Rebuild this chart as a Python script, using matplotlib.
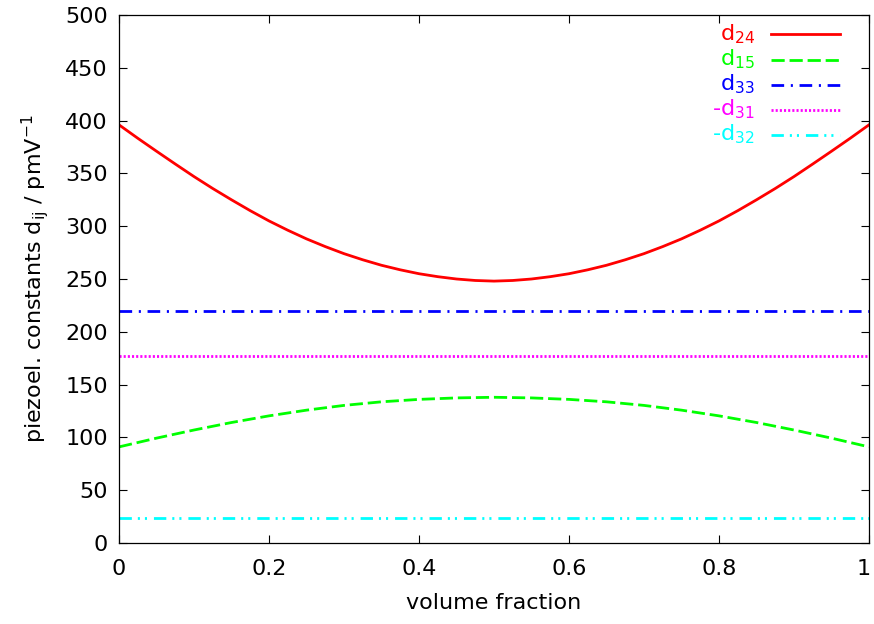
import matplotlib
matplotlib.use("Agg")
import matplotlib.pyplot as plt
import matplotlib.transforms as mtransforms
import numpy as np
from matplotlib.ticker import FuncFormatter, MultipleLocator

# volume fraction grids
frac_fine = [0.000, 0.025, 0.050, 0.075, 0.100, 0.125, 0.150, 0.175, 0.200, 0.225,
             0.250, 0.275, 0.300, 0.325, 0.350, 0.375, 0.400, 0.425, 0.450, 0.475,
             0.500, 0.525, 0.550, 0.575, 0.600, 0.625, 0.650, 0.675, 0.700, 0.725,
             0.750, 0.775, 0.800, 0.825, 0.850, 0.875, 0.900, 0.925, 0.950, 0.975,
             1.000]
frac = [0.00, 0.05, 0.10, 0.15, 0.20, 0.25, 0.30, 0.35, 0.40, 0.45, 0.50,
        0.55, 0.60, 0.65, 0.70, 0.75, 0.80, 0.85, 0.90, 0.95, 1.00]

# piezoelectric constants (pm/V)
d24 = [396, 383.3, 371, 358.9, 347, 335.7, 325, 314.7, 305, 296.2,
       288, 280.7, 274, 268.2, 263, 258.7, 255, 252.2, 250, 248.6,
       248,
       248.6, 250, 252.2, 255, 258.7, 263, 268.2, 274, 280.7, 288,
       296.2, 305, 314.7, 325, 335.7, 347, 358.9, 371, 383.3, 396]
d15 = [91, 99.3, 107, 114.1, 120.4, 125.8, 130.3, 133.7, 136, 137.4, 138,
       137.4, 136, 133.7, 130.3, 125.8, 120.4, 114.1, 107, 99.3, 91]
d33 = 220
d31 = 177
d32 = 24

labels = ["d$_{24}$", "d$_{15}$", "d$_{33}$", "-d$_{31}$", "-d$_{32}$"]
colors = ["#ff0000", "#00ff00", "#0000ff", "#ff00ff", "#00ffff"]
dashes = [None, (9.5, 3.5), (9.1, 4.8, 1.5, 4.8), (1.5, 1.5),
          (8.9, 4.3, 1.5, 3.6, 1.5, 5.0)]

plt.rcParams["font.family"] = ["DejaVu Sans"]
plt.rcParams["mathtext.fontset"] = "dejavusans"
plt.rcParams["mathtext.default"] = "regular"
plt.rcParams["lines.scale_dashes"] = False

FS = 16

fig = plt.figure(figsize=(8.74, 6.24), dpi=100)
ax = fig.add_axes([119 / 874, 81 / 624, 750 / 874, 528 / 624])

x = np.array(frac)
curves = [(frac_fine, d24), (frac, d15), (frac, np.full_like(x, d33)),
          (frac, np.full_like(x, d31)), (frac, np.full_like(x, d32))]
for (xs, ys), c, ds in zip(curves, colors, dashes):
    line, = ax.plot(xs, ys, color=c, lw=2.0)
    if ds is not None:
        line.set_dashes(ds)

ax.set_xlim(0, 1)
ax.set_ylim(0, 500)
ax.xaxis.set_major_locator(MultipleLocator(0.2))
ax.yaxis.set_major_locator(MultipleLocator(50))
ax.xaxis.set_major_formatter(FuncFormatter(lambda v, _: f"{v:g}"))
ax.tick_params(direction="in", length=5.8, width=0.8, top=True, right=True,
               labelsize=FS)
ax.tick_params(axis="x", pad=11.5)
ax.tick_params(axis="y", pad=8)
for sp in ax.spines.values():
    sp.set_linewidth(0.9)

ax.set_xlabel("volume fraction", fontsize=FS, labelpad=10)
ax.set_ylabel("piezoel. constants d$_{ij}$ / pmV$^{-1}$", fontsize=FS, labelpad=10)

# gnuplot-style key: right-aligned coloured labels next to line samples
row0, step = 0.9634, 0.0477
for i, (lab, c, ds) in enumerate(zip(labels, colors, dashes)):
    yk = row0 - i * step
    sample, = ax.plot([0.869, 0.961], [yk, yk], color=c, lw=2.0,
                      transform=ax.transAxes, clip_on=False)
    if ds is not None:
        sample.set_dashes(ds)
    ax.text(0.848, yk - 0.011, lab, color=c, fontsize=FS, ha="right",
            va="baseline", transform=ax.transAxes)

# nudge the "1" tick label so it stays inside the figure
fig.canvas.draw()
shift = mtransforms.ScaledTranslation(-5 / 100, 0, fig.dpi_scale_trans)
for tick in ax.xaxis.get_major_ticks():
    if tick.label1.get_text() == "1":
        tick.label1.set_transform(tick.label1.get_transform() + shift)

fig.savefig("out.png", dpi=100)
